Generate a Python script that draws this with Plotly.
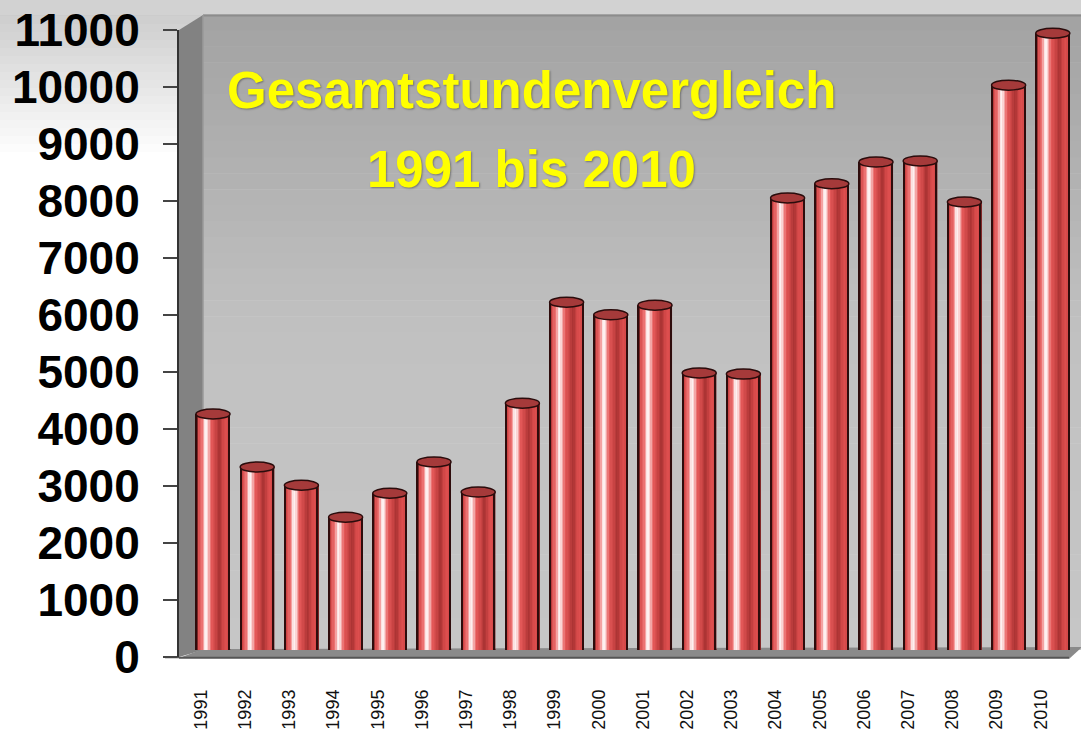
import plotly.graph_objects as go

# ---------------- data ----------------
years = list(range(1991, 2011))
year_labels = [str(y) for y in years]
hours = [4140, 3210, 2890, 2330, 2750, 3300, 2770, 4330, 6100, 5880,
         6050, 4860, 4840, 7930, 8180, 8560, 8580, 7860, 9910, 10820]
y_ticks = list(range(0, 11001, 1000))
y_tick_labels = [str(v) for v in y_ticks]
title_lines = ["Gesamtstundenvergleich", "1991 bis 2010"]

# ---------------- geometry helpers ----------------
W, H = 1081, 731
L, R, T, B = 179, 6, 10, 74
PW, PH = W - L - R, H - T - B          # 896 x 647
Y0PIX, YTOPPIX = 657, 30               # front axis: 0 at 657px, 11000 at 30px
YMAX = 11000
PX_PER_UNIT_Y = (Y0PIX - YTOPPIX) / YMAX
PX_PER_YEAR = 44.2
DEPTH_DX, DEPTH_DY = 12, 7             # 3D depth shift of the bars


def px(x):
    return (x - L) / PW


def py(y):
    return (Y0PIX - y) / PH


def hexmix(c1, c2, t):
    a = [int(c1[i:i + 2], 16) for i in (1, 3, 5)]
    b = [int(c2[i:i + 2], 16) for i in (1, 3, 5)]
    return "#%02x%02x%02x" % tuple(round(a[k] + (b[k] - a[k]) * t) for k in range(3))


def profile(stops, t):
    for (t0, c0), (t1, c1) in zip(stops, stops[1:]):
        if t0 <= t <= t1:
            return hexmix(c0, c1, (t - t0) / (t1 - t0) if t1 > t0 else 0)
    return stops[-1][1]


# front axis range (labels)
x0_front = years[0] - 22 / PX_PER_YEAR
x1_front = x0_front + PW / PX_PER_YEAR
# bar axis range (shifted for depth)
x0_bar = x0_front - DEPTH_DX / PX_PER_YEAR
x1_bar = x1_front - DEPTH_DX / PX_PER_YEAR
y2_top_pix = T
y2_range_max = (Y0PIX - DEPTH_DY - y2_top_pix) / PX_PER_UNIT_Y

fig = go.Figure()

# invisible trace for front axes
fig.add_trace(go.Scatter(x=[years[0]], y=[0], mode="markers",
                         marker=dict(opacity=0), hoverinfo="skip",
                         showlegend=False, xaxis="x", yaxis="y"))

# ---------------- cylinders as shaded strips ----------------
bw = 0.77
N = 24
cyl = [(0.0, "#9a2828"), (0.07, "#d44646"), (0.2, "#ee7676"), (0.29, "#ffffff"),
       (0.36, "#fbd0d0"), (0.46, "#e65a5a"), (0.6, "#c94444"), (0.7, "#a83232"),
       (0.82, "#d44848"), (0.92, "#e05050"), (1.0, "#b03434")]
for i in range(N):
    t = (i + 0.5) / N
    wdt = bw / N * (1.25 if i < N - 1 else 1.0)
    fig.add_trace(go.Bar(
        x=years, y=hours, xaxis="x2", yaxis="y2",
        width=wdt, offset=-bw / 2 + i * bw / N,
        marker=dict(color=profile(cyl, t), line=dict(width=0)),
        hoverinfo="skip", showlegend=False))

# dark outline edges
edge = 0.035
for off in (-bw / 2, bw / 2 - edge):
    fig.add_trace(go.Bar(
        x=years, y=hours, xaxis="x2", yaxis="y2",
        width=edge, offset=off,
        marker=dict(color="#2e0c0c", line=dict(width=0)),
        hoverinfo="skip", showlegend=False))

shapes = []

# page background gradient (top grey fading to white)
nb = 20
for k in range(nb):
    ya, yb = 160 * k / nb, 160 * (k + 1) / nb
    shapes.append(dict(type="rect", xref="paper", yref="paper", layer="below",
                       x0=px(0), x1=px(W), y0=py(yb), y1=py(ya),
                       fillcolor=hexmix("#c9c9c9", "#ffffff", k / (nb - 1)),
                       line=dict(width=0)))
shapes.append(dict(type="rect", xref="paper", yref="paper", layer="below",
                   x0=px(0), x1=px(W), y0=py(15), y1=py(0),
                   fillcolor="#d2d2d2", line=dict(width=0)))

# back wall gradient
nw = 40
wall_top, wall_bot = 15, 650
for k in range(nw):
    ya = wall_top + (wall_bot - wall_top) * k / nw
    yb = wall_top + (wall_bot - wall_top) * (k + 1) / nw
    t = k / (nw - 1)
    col = hexmix("#a3a3a3", "#c1c1c1", min(1, t / 0.5)) if t < 0.5 else hexmix("#c1c1c1", "#c6c6c6", (t - 0.5) / 0.5)
    shapes.append(dict(type="rect", xref="paper", yref="paper", layer="below",
                       x0=px(203), x1=px(W), y0=py(yb), y1=py(ya - 0.5),
                       fillcolor=col, line=dict(width=0)))
shapes.append(dict(type="line", xref="paper", yref="paper", layer="below",
                   x0=px(203), x1=px(W), y0=py(15.5), y1=py(15.5),
                   line=dict(color="#8c8c8c", width=2)))


def path(pts):
    return "M " + " L ".join("%f,%f" % (px(a), py(b)) for a, b in pts) + " Z"


# left side wall
shapes.append(dict(type="path", xref="paper", yref="paper", layer="below",
                   path=path([(179, 30), (203, 15), (203, 650), (179, 657)]),
                   fillcolor="#828282", line=dict(width=0)))
shapes.append(dict(type="line", xref="paper", yref="paper", layer="below",
                   x0=px(203), x1=px(203), y0=py(650), y1=py(15),
                   line=dict(color="#9a9a9a", width=1.5)))
# floor
shapes.append(dict(type="path", xref="paper", yref="paper", layer="below",
                   path=path([(179, 658), (203, 649), (1081, 647), (1081, 648), (1069, 659), (179, 659)]),
                   fillcolor="#8a8a8a", line=dict(width=0)))
# front base line
shapes.append(dict(type="line", xref="paper", yref="paper", layer="below",
                   x0=px(165), x1=px(1069), y0=py(657.5), y1=py(657.5),
                   line=dict(color="#555555", width=1.5)))

# cylinder bottoms and tops
eh = 5 / PX_PER_UNIT_Y
for yr, v in zip(years, hours):
    shapes.append(dict(type="circle", xref="x2", yref="y2", layer="below",
                       x0=yr - bw / 2, x1=yr + bw / 2, y0=-eh, y1=eh,
                       fillcolor="#d24646", line=dict(color="#3a1010", width=1)))
for yr, v in zip(years, hours):
    shapes.append(dict(type="circle", xref="x2", yref="y2", layer="above",
                       x0=yr - bw / 2, x1=yr + bw / 2, y0=v - eh, y1=v + eh,
                       fillcolor="#a53a3a", line=dict(color="#2a0c0c", width=1.5)))

title_font = dict(family="Liberation Sans, Arial, sans-serif", size=51, color="#ffff00",
                  shadow="1px 1px 2px rgba(0,0,0,0.35)")
annotations = [
    dict(text="<b>%s</b>" % title_lines[0], xref="paper", yref="paper",
         x=px(531), y=py(90), showarrow=False, xanchor="center", yanchor="middle",
         font=title_font),
    dict(text="<b>%s</b>" % title_lines[1], xref="paper", yref="paper",
         x=px(531), y=py(169), showarrow=False, xanchor="center", yanchor="middle",
         font=title_font),
]

fig.update_layout(
    width=W, height=H,
    margin=dict(l=L, r=R, t=T, b=B, autoexpand=False),
    paper_bgcolor="#ffffff", plot_bgcolor="rgba(0,0,0,0)",
    barmode="overlay", showlegend=False,
    shapes=shapes, annotations=annotations,
    xaxis=dict(domain=[0, 1], range=[x0_front, x1_front], anchor="y",
               tickmode="array", tickvals=years, ticktext=year_labels,
               tickangle=-90, ticks="", showgrid=False, zeroline=False,
               showline=False, ticklabelstandoff=28,
               tickfont=dict(family="Liberation Sans, Arial, sans-serif", size=18, color="#111111")),
    yaxis=dict(domain=[0, (Y0PIX - YTOPPIX) / PH], range=[0, YMAX], anchor="x",
               tickmode="array", tickvals=y_ticks, ticktext=y_tick_labels,
               ticks="outside", ticklen=14, tickwidth=1.5, tickcolor="#444444",
               showline=True, linecolor="#333333", linewidth=2,
               showgrid=False, zeroline=False, ticklabelstandoff=14,
               tickfont=dict(family="Liberation Sans, Arial, sans-serif", size=46, color="#000000",
                             weight="bold")),
    xaxis2=dict(domain=[0, 1], range=[x0_bar, x1_bar], anchor="y2", visible=False),
    yaxis2=dict(domain=[DEPTH_DY / PH, 1], range=[0, y2_range_max], anchor="x2", visible=False),
)

fig.write_html("out.html", config={"displayModeBar": False},
               post_script="document.body.style.margin='0';document.body.style.overflow='hidden';")
